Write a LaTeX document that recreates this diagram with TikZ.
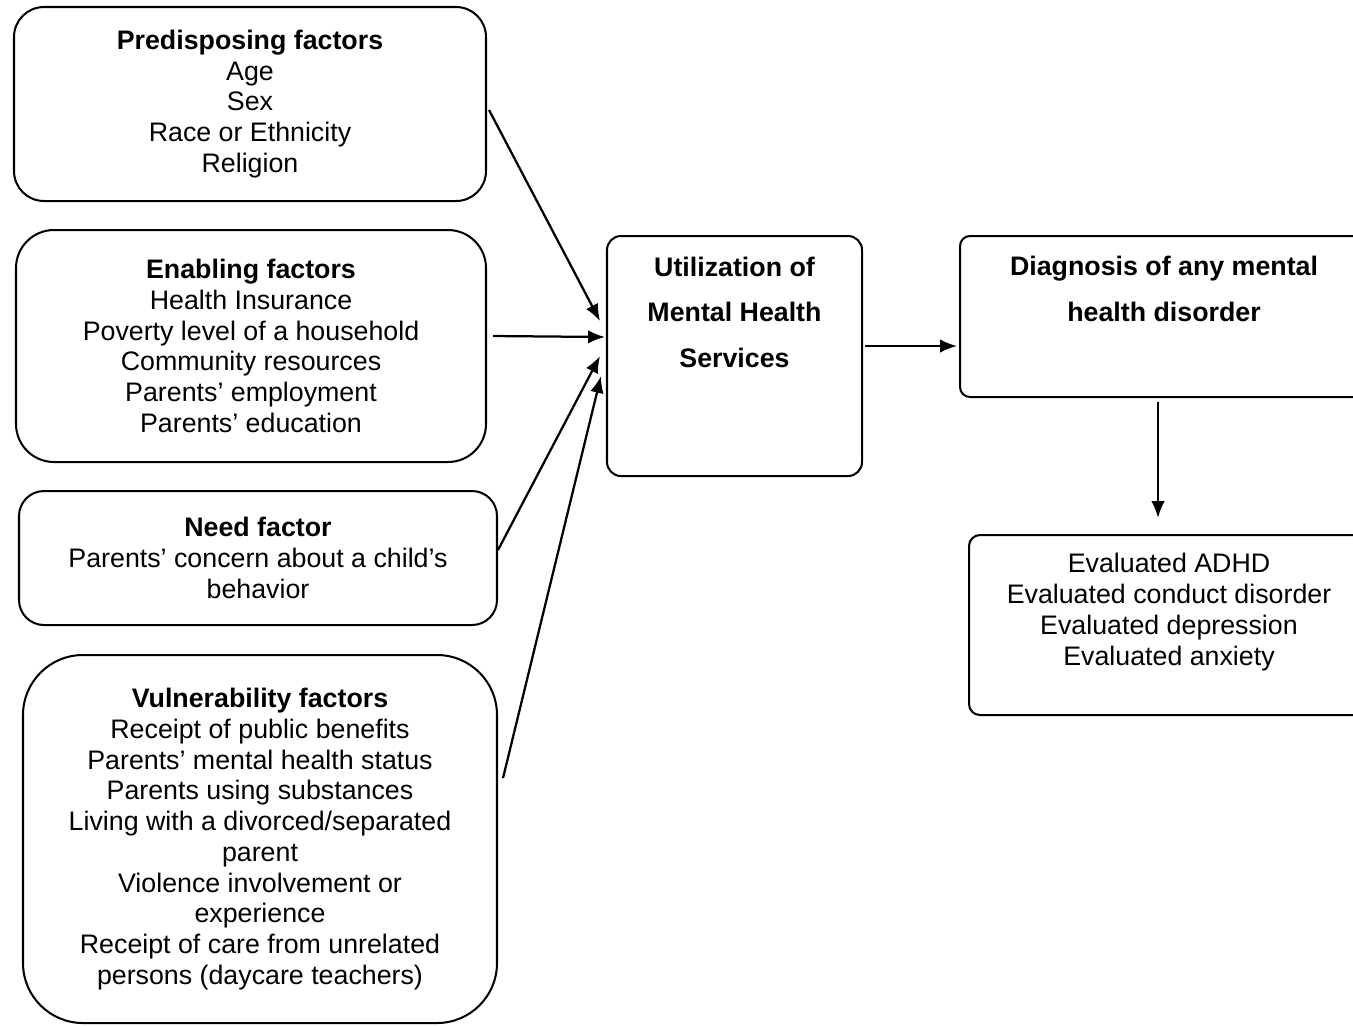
\documentclass[tikz,border=0pt]{standalone}
\usepackage{fontspec}
\setmainfont{Liberation Sans}
\usetikzlibrary{arrows.meta}
\def\pxu{0.4444pt}

\begin{document}
\begin{tikzpicture}[
  x=\pxu, y=-\pxu,
  > = {Latex[length=7.5pt,width=6pt]},
  font=\fontsize{11.9}{13.65}\selectfont,
  factor/.style = {draw, line width=0.9pt, align=center, inner sep=0pt},
  heading/.style = {align=center, inner sep=0pt, font=\fontsize{11.9}{20.2}\selectfont\bfseries},
  link/.style = {->, line width=1pt}
  ]
	\useasboundingbox (0,0) rectangle (1353,1025);
	\clip (0,0) rectangle (1353,1025);

	% left column: the four groups of factors
	\node[factor, rounded corners=30*\pxu, minimum width=472*\pxu, minimum height=194*\pxu] (pre) at (250,104)
		{{\bfseries Predisposing factors}\\ Age\\ Sex\\ Race or Ethnicity\\ Religion};
	\node[factor, rounded corners=38*\pxu, minimum width=470*\pxu, minimum height=232*\pxu] (ena) at (251,346)
		{{\bfseries Enabling factors}\\ Health Insurance\\ Poverty level of a household\\ Community resources\\ Parents’ employment\\ Parents’ education};
	\node[factor, rounded corners=25*\pxu, minimum width=478*\pxu, minimum height=134*\pxu] (need) at (258,558)
		{{\bfseries Need factor}\\ Parents’ concern about a child’s\\ behavior};
	\node[factor, rounded corners=60*\pxu, minimum width=474*\pxu, minimum height=368*\pxu] (vul) at (260,839)
		{{\bfseries Vulnerability factors}\\ Receipt of public benefits\\ Parents’ mental health status\\ Parents using substances\\ Living with a divorced/separated\\ parent\\ Violence involvement or\\ experience\\ Receipt of care from unrelated\\ persons (daycare teachers)};

	% middle and right
	\node[factor, rounded corners=14*\pxu, minimum width=255*\pxu, minimum height=240*\pxu] (util) at (734.5,356) {};
	\node[heading] (utiltext) at (734.5,312) {Utilization of\\ Mental Health\\ Services};

	\node[factor, rounded corners=10*\pxu, minimum width=406*\pxu, minimum height=161*\pxu] (diag) at (1163,316.5) {};
	\node[heading] (diagtext) at (1164,289) {Diagnosis of any mental\\ health disorder};

	\node[factor, rounded corners=11*\pxu, minimum width=398*\pxu, minimum height=180*\pxu] (eval) at (1168,625) {};
	\node[align=center, inner sep=0pt] (evaltext) at (1169,612)
		{Evaluated ADHD\\ Evaluated conduct disorder\\ Evaluated depression\\ Evaluated anxiety};

	\draw[link] ([shift={(2,6)}]pre.east) -- ([shift={(-6,-35)}]util.west);
	\draw[link] ([shift={(6,-10)}]ena.east) -- ([shift={(-1,-19)}]util.west);
	\draw[link] ([shift={(0,-8)}]need.east) -- ([shift={(-6,0)}]util.west);
	\draw[link] ([shift={(5,-61)}]vul.east) -- ([shift={(-5,20)}]util.west);
	\draw[link] ([shift={(2,-10)}]util.east) -- ([shift={(-2,29.5)}]diag.west);
	\draw[link] ([shift={(-5,4)}]diag.south) -- ([shift={(-10,-16)}]eval.north);

\end{tikzpicture}
\end{document}
